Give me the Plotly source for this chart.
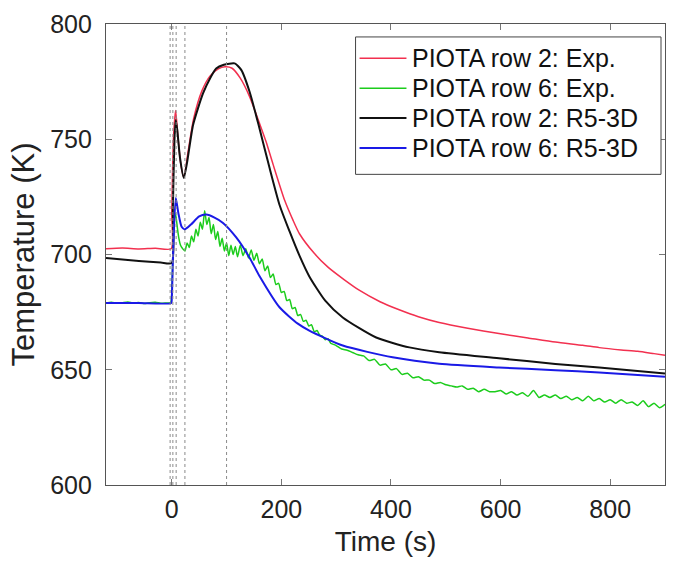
import plotly.graph_objects as go

# ---------------- data ----------------
red_t = [-120, -90, -60, -30, -1, 0, 3, 7, 11, 16, 22, 30, 40, 55, 70, 85, 97, 110, 125,
         142, 160, 172, 185, 206, 221, 233, 260, 285, 315, 342, 380, 415, 450, 488, 540,
         597, 650, 700, 750, 780, 820, 850, 880, 900]
red_T = [702.5, 702.8, 702.4, 702.7, 702.5, 718, 750, 762.5, 752, 740, 733.5, 745, 759, 771,
         777.5, 780.5, 781.4, 780.8, 776.5, 768.5, 757, 749, 739, 723.5, 715, 709, 700.5,
         694.5, 689, 684.5, 679.5, 676, 673, 670.5, 668, 665.7, 663.8, 662, 660.6, 659.6,
         658.6, 658, 657, 656.3]

green_t = [-120, -110, -100, -90, -80, -70, -60, -50, -40, -30, -20, -10, -2,
           0, 2, 4, 6, 8, 10, 13, 16, 20, 24, 28, 32, 36, 40, 44, 48, 52, 56, 60, 64, 68,
           72, 76, 80, 84, 88, 92, 96, 100, 104, 108, 112, 116, 120, 125, 130, 135, 140,
           145, 150, 155, 160, 165, 170, 175, 180, 185, 190, 195, 200, 205, 210, 215, 220,
           225, 230, 235, 240, 245, 250, 255, 260, 265, 270, 275, 280, 285, 290, 295, 300,
           310, 320, 330, 340, 350, 360, 370, 380, 390, 400, 410, 420, 430, 440, 450, 460,
           470, 480, 490, 500, 510, 520, 530, 540, 550, 560, 570, 580, 590, 600, 610, 620,
           630, 640, 650, 660, 670, 680, 690, 700, 710, 720, 730, 740, 750, 760, 770, 780,
           790, 800, 810, 820, 830, 840, 850, 860, 870, 880, 890, 900]
green_T = [679.0, 679.3, 678.8, 679.1, 679.4, 678.9, 679.2, 678.7, 679.1, 679.3, 678.9, 679.0, 679.1,
           683, 700, 713, 718, 716, 712, 707, 704, 702.5, 701.5, 705, 703, 708, 705.5, 711,
           708, 714, 711, 719, 713, 716, 709, 713, 706.5, 710, 703.5, 707, 701.5, 705, 699.5,
           704, 700, 703.5, 699, 704, 699.5, 702.5, 698.5, 702, 697.5, 700.5, 696, 698, 693,
           695, 690, 691.5, 687, 687.5, 683.5, 684, 680, 680.5, 676.5, 677, 673.5, 674, 671,
           671.5, 669, 669.5, 666.5, 667, 665, 664.5, 663, 663.5, 661.5, 661, 660.5,
           659, 658.5, 657.5, 656.5, 656, 654, 654.5, 652, 652.5, 650, 650.5, 648, 648.5,
           646.5, 647, 645.5, 645.5, 644, 644.5, 643.5, 643, 642.5, 643, 641.5, 642, 640.5,
           641.5, 640.5, 640.5, 641, 639.5, 640.5, 639, 640, 638.5, 641, 638, 639, 638, 639,
           637.5, 638.5, 637, 638, 636.5, 638.5, 636.5, 637.5, 636, 637, 635.5, 637, 635.5,
           636, 634.5, 636.5, 634, 635.5, 633.5, 635]

black_t = [-120, -60, -20, 0, 2, 5, 7.3, 10, 15, 21.9, 28, 38.9, 57, 70, 81, 95, 114.8, 127,
           142, 160, 178.5, 196.7, 215, 233, 251, 280, 312, 373, 433.5, 488, 597, 700, 780, 900]
black_T = [698.5, 697.2, 696.5, 696.3, 720, 750, 758.4, 754, 742, 733.2, 740, 756.2, 769.9,
           776.5, 780.7, 782.3, 782.9, 780, 770.6, 754.8, 737.5, 721.5, 710, 699.5, 690.5,
           680, 672.7, 664, 659.7, 657.6, 655, 652.5, 651, 648.4]

blue_t = [-120, -60, -1, 0, 3, 7.3, 12, 18, 23.7, 35, 50, 63, 78, 93.5, 118, 142, 160, 197,
          230, 251, 312, 403, 488, 597, 700, 780, 900]
blue_T = [679, 679, 679, 681, 705, 724.5, 718, 712, 710.9, 713, 716.5, 717.3, 716, 713.7,
          707.3, 698.6, 690.7, 677, 670, 667, 660.5, 655.4, 652.6, 651, 649.8, 648.8, 647]

event_times = [-3, 2, 8, 24, 100]

names = ["PIOTA row 2: Exp.", "PIOTA row 6: Exp.", "PIOTA row 2: R5-3D", "PIOTA row 6: R5-3D"]
colors = ["#f2304f", "#1ccc1c", "#111111", "#1a1ae6"]
widths = [1.5, 1.5, 2, 2]

FONT = "Liberation Sans, Arial, sans-serif"

# figure / plot-area geometry (pixels)
W, H = 676, 562
L, R, T, B = 106, 10, 22, 77
PW, PH = W - L - R, H - T - B


def px(xpix):
    return (xpix - L) / PW


def py(ypix):
    return (H - B - ypix) / PH


fig = go.Figure()
for t, Tv, n, c, w in zip([red_t, green_t, black_t, blue_t],
                          [red_T, green_T, black_T, blue_T], names, colors, widths):
    fig.add_trace(go.Scatter(x=t, y=Tv, name=n, mode="lines", showlegend=False,
                             line=dict(color=c, width=w, shape="spline", smoothing=0.6)))

for et in event_times:
    fig.add_vline(x=et, line=dict(color="#8a8a8a", width=1, dash="3px,3px"))

# legend box drawn in paper coordinates
box = dict(x0=356, x1=662, y0=35, y1=173)
fig.add_shape(type="rect", xref="paper", yref="paper",
              x0=px(box["x0"]), x1=px(box["x1"]), y0=py(box["y1"]), y1=py(box["y0"]),
              line=dict(color="#444444", width=1), fillcolor="white", layer="above")
row0, row_gap = 56.5, 30
for i, (n, c, w) in enumerate(zip(names, colors, widths)):
    yy = py(row0 + i * row_gap)
    fig.add_shape(type="line", xref="paper", yref="paper",
                  x0=px(360), x1=px(407), y0=yy, y1=yy,
                  line=dict(color=c, width=w), layer="above")
    fig.add_annotation(text=n, xref="paper", yref="paper", x=px(411), y=yy,
                       xanchor="left", yanchor="middle", showarrow=False,
                       font=dict(size=25, family=FONT, color="#111111"))

fig.update_layout(
    width=W, height=H,
    margin=dict(l=L, r=R, t=T, b=B),
    paper_bgcolor="white", plot_bgcolor="white",
    font=dict(family=FONT, color="#222222", size=25),
    showlegend=False,
)
fig.update_xaxes(range=[-120, 900], dtick=200, tick0=0,
                 showline=True, linecolor="#555555", linewidth=1.3, mirror="ticks",
                 ticks="inside", ticklen=6, tickcolor="#777777",
                 showgrid=False, zeroline=False,
                 tickfont=dict(size=25), ticklabelstandoff=2,
                 title=dict(text="Time (s)", font=dict(size=28), standoff=9))
fig.update_yaxes(range=[600, 800], dtick=50, tick0=600,
                 showline=True, linecolor="#555555", linewidth=1.3, mirror="ticks",
                 ticks="inside", ticklen=6, tickcolor="#777777",
                 showgrid=False, zeroline=False,
                 tickfont=dict(size=25), ticklabelstandoff=8,
                 title=dict(text="Temperature (K)", font=dict(size=31), standoff=6))

fig.write_html("out.html")
